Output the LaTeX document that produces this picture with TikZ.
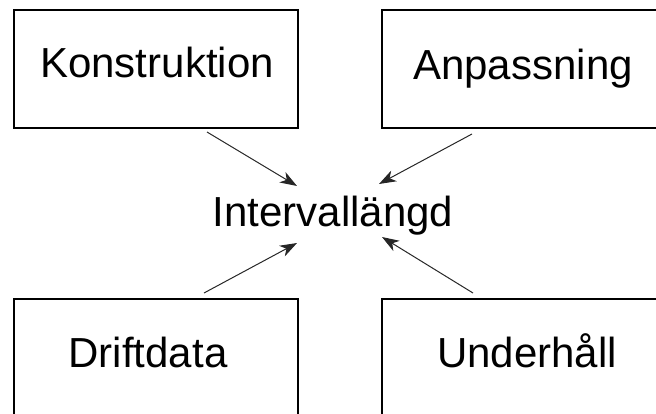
\documentclass[tikz,border=0pt]{standalone}
\usepackage{fontspec}
\setmainfont{Liberation Sans}
\usetikzlibrary{arrows.meta}
\begin{document}
\begin{tikzpicture}[x=1pt,y=-1pt,
  box/.style={draw=black,line width=2pt,minimum width=284pt,minimum height=118pt,inner sep=0pt},
  lbl/.style={anchor=base,inner sep=0pt,font=\fontsize{42pt}{48pt}\selectfont},
  feed/.style={draw=black!85,line width=1pt,-{Stealth[length=17pt,width=12pt,inset=5pt]}}]
  \useasboundingbox (0,0) rectangle (656,414);
  \clip (0,0) rectangle (656,414);
  % four source boxes
  \node[box] (kbox) at (156,69) {};
  \node[box] (abox) at (524,69) {};
  \node[box] (dbox) at (156,358) {};
  \node[box] (ubox) at (524,358) {};
  % box captions
  \node[lbl] (ktext) at (157,78) {Konstruktion};
  \node[lbl] (atext) at (523,80) {Anpassning};
  \node[lbl] (dtext) at (148,367) {Driftdata};
  \node[lbl] (utext) at (527,367) {Underhåll};
  % central quantity
  \node[lbl] (mid) at (333,227) {Intervallängd};
  % arrow end points
  \coordinate (k1) at (207,132);
  \coordinate (k2) at (297,186);
  \coordinate (a1) at (472,134);
  \coordinate (a2) at (379,184);
  \coordinate (d1) at (204,293);
  \coordinate (d2) at (297,243);
  \coordinate (u1) at (473,293);
  \coordinate (u2) at (382,237);
  \draw[feed] (k1) -- (k2);
  \draw[feed] (a1) -- (a2);
  \draw[feed] (d1) -- (d2);
  \draw[feed] (u1) -- (u2);
\end{tikzpicture}
\end{document}
